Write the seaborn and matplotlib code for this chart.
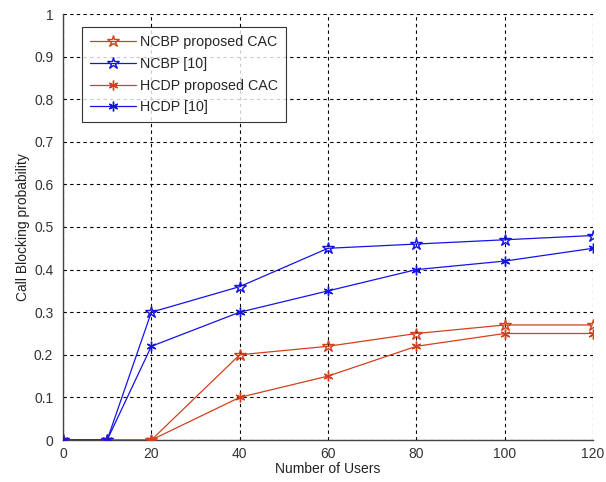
import matplotlib
matplotlib.use("Agg")
import matplotlib.pyplot as plt
import seaborn as sns
import pandas as pd
from matplotlib.lines import Line2D

users = [0, 10, 20, 40, 60, 80, 100, 120]
ncbp_proposed = [0, 0, 0, 0.20, 0.22, 0.25, 0.27, 0.27]
ncbp_ref = [0, 0, 0.30, 0.36, 0.45, 0.46, 0.47, 0.48]
hcdp_proposed = [0, 0, 0, 0.10, 0.15, 0.22, 0.25, 0.25]
hcdp_ref = [0, 0, 0.22, 0.30, 0.35, 0.40, 0.42, 0.45]
labels = ["NCBP proposed CAC", "NCBP [10]", "HCDP proposed CAC", "HCDP [10]"]
xticks = [0, 20, 40, 60, 80, 100, 120]
yticks = [0, 0.1, 0.2, 0.3, 0.4, 0.5, 0.6, 0.7, 0.8, 0.9, 1]
ytick_labels = ["0", "0.1", "0.2", "0.3", "0.4", "0.5", "0.6", "0.7", "0.8", "0.9", "1"]

sns.set_style("white")
plt.rcParams['font.family'] = ['Liberation Sans', 'DejaVu Sans']

series = [ncbp_proposed, ncbp_ref, hcdp_proposed, hcdp_ref]
rows = []
for lab, vals in zip(labels, series):
    for x, v in zip(users, vals):
        rows.append({"users": x, "prob": v, "series": lab})
df = pd.DataFrame(rows)

red = "#d4401c"
blue = "#1414e6"
colors = {labels[0]: red, labels[1]: blue, labels[2]: red, labels[3]: blue}
markers = {labels[0]: "*", labels[1]: "*", labels[2]: (6, 2, 0), labels[3]: (6, 2, 0)}

fig = plt.figure(figsize=(6.06, 4.82), dpi=100)
ax = fig.add_axes([63/606, 1-440/482, (593-63)/606, (440-14)/482])

def style(lab):
    hollow = "NCBP" in lab
    return dict(color=colors[lab], linewidth=0.9, marker=markers[lab],
                markersize=9 if hollow else 7,
                markerfacecolor="none" if hollow else colors[lab],
                markeredgecolor=colors[lab], markeredgewidth=1.0)

for lab in labels:
    sub = df[df.series == lab]
    sns.lineplot(data=sub, x="users", y="prob", ax=ax, label=lab,
                 legend=False, zorder=3, **style(lab))

handles = [Line2D([], [], label=lab, **style(lab)) for lab in labels]

ax.set_xlim(0, 120)
ax.set_ylim(0, 1)
ax.set_xticks(xticks)
ax.set_yticks(yticks)
ax.set_xticklabels([str(t) for t in xticks])
ax.set_yticklabels(ytick_labels)
ax.grid(True, linestyle=(0, (3, 3)), color="black", linewidth=0.8)
ax.set_axisbelow(True)
for s in ["top", "right"]:
    ax.spines[s].set_visible(False)
for s in ["left", "bottom"]:
    ax.spines[s].set_color("#444444")
    ax.spines[s].set_linewidth(1.0)
ax.tick_params(axis="both", labelsize=10, length=3, direction="in",
               colors="#333333", labelcolor="#333333")
ax.tick_params(axis="x", pad=5)
ax.tick_params(axis="y", pad=7)
ax.set_xlabel("Number of Users", fontsize=10, labelpad=1, color="#222222")
ax.set_ylabel("Call Blocking probability", fontsize=10, labelpad=3, color="#222222")

leg = ax.legend(handles=handles, loc="upper left",
                bbox_to_anchor=((82-63)/530, (440-27)/426),
                fontsize=10.3, frameon=True, fancybox=False, edgecolor="black",
                handlelength=3.2, borderpad=0.55, labelspacing=0.55,
                handletextpad=0.3, borderaxespad=0)
leg.get_frame().set_linewidth(0.8)

fig.savefig("out.png", dpi=100)
